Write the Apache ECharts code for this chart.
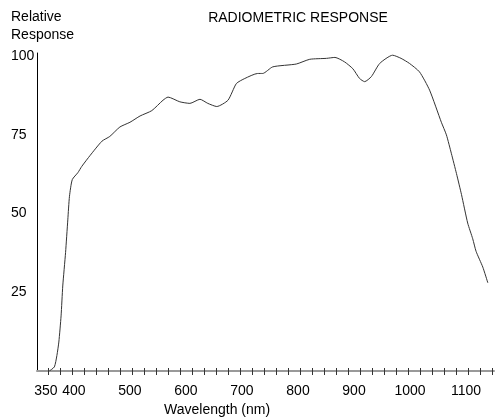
<!DOCTYPE html>
<html>
<head>
<meta charset="utf-8">
<script src="https://cdn.jsdelivr.net/npm/echarts@6/dist/echarts.min.js"></script>
<style>
  html, body { margin: 0; padding: 0; background: #fff; }
  #main { width: 496px; height: 418px; }
</style>
</head>
<body>
<div id="main"></div>
<script>
// wavelength (nm) and relative response (%)
var wavelength = [356, 365, 369.5, 373, 377, 380, 385, 389, 392, 397, 407, 414, 429, 450, 464, 482, 500, 518, 539, 559,
    568, 589, 607, 625, 639, 655, 675, 690, 705, 728, 737, 755, 797, 821, 851, 866, 883, 898, 910, 919,
    931, 946, 969, 984, 999, 1017, 1035, 1056, 1065, 1074, 1083, 1092, 1103, 1112, 1118, 1130, 1139];
var response = [0, 1.3, 4.9, 9.2, 17.5, 27, 37.6, 48, 55.5, 60.8, 63, 65, 68.5, 73, 74.5, 77.5, 79, 81, 82.7, 86,
    87, 85.5, 85, 86.3, 85, 84, 86, 91.3, 92.9, 94.5, 94.5, 96.6, 97.5, 99, 99.3, 99.6, 98.2, 96, 92.9, 91.9,
    93.5, 97.7, 100.3, 99.3, 97.7, 95, 89.2, 79, 75, 69, 62.7, 56, 47, 42, 38, 33, 28];

var xLabels = [350, 400, 500, 600, 700, 800, 900, 1000, 1100];
var yLabels = [25, 50, 75, 100];

// minor ticks along the wavelength axis
var xTicks = [];
for (var t = 354.5; t <= 1150; t += 21.4) xTicks.push(t);

var font = 'Liberation Sans';
var myChart = echarts.init(document.getElementById('main'));

var points = wavelength.map(function (w, i) { return [w, response[i]]; });

var baseX = {
    type: 'value',
    position: 'bottom',
    min: 334,
    max: 1150,
    splitLine: { show: false },
    axisLine: { show: true, onZero: false, lineStyle: { color: '#999', width: 2 } },
    axisTick: { show: true, customValues: xTicks, length: 4, inside: false, lineStyle: { color: '#333' } },
    axisLabel: {
        customValues: xLabels,
        formatter: function (v) { return String(v); },
        color: '#000',
        fontFamily: font,
        fontSize: 14,
        margin: 13
    }
};

var option = {
    animation: false,
    title: {
        text: 'RADIOMETRIC RESPONSE',
        left: 293,
        top: 6,
        textAlign: 'center',
        textStyle: { fontFamily: font, fontSize: 14, fontWeight: 'normal', color: '#000' }
    },
    graphic: [
        { type: 'text', left: 11, top: 8, style: { text: 'Relative\nResponse', lineHeight: 18, font: '14px ' + font, fill: '#000' } },
        { type: 'text', left: 164, top: 403, style: { text: 'Wavelength (nm)', font: '14px ' + font, fill: '#000' } }
    ],
    grid: {
        left: 37,
        right: 2,
        top: 53,
        bottom: 47
    },
    xAxis: [
        baseX,
        Object.assign({}, baseX, {
            axisLine: { show: false, onZero: false },
            axisTick: { show: true, customValues: xTicks, length: 3, inside: true, lineStyle: { color: '#333' } },
            axisLabel: { show: false }
        })
    ],
    yAxis: {
        type: 'value',
        min: 0,
        max: 101,
        splitLine: { show: false },
        axisLine: { show: true, lineStyle: { color: '#000', width: 1 } },
        axisTick: { show: false },
        axisLabel: {
            customValues: yLabels,
            align: 'left',
            margin: 26,
            color: '#000',
            fontFamily: font,
            fontSize: 14
        }
    },
    series: [
        {
            type: 'line',
            data: points,
            smooth: 0.2,
            showSymbol: false,
            lineStyle: { color: '#333', width: 1 }
        }
    ]
};
myChart.setOption(option);
</script>
</body>
</html>
